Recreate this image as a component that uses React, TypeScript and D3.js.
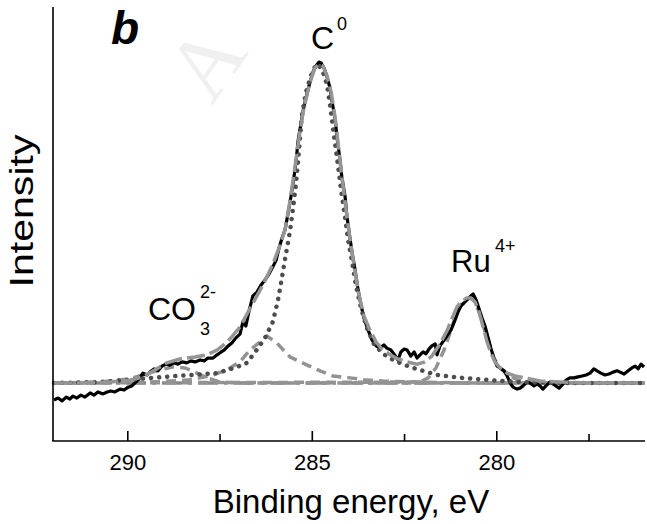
import React from 'react';
import * as d3 from 'd3';

type P = [number, number];

const majorTicks = [290, 285, 280];
const minorTicks = [287.5, 282.5, 277.5];

// Binding energy (eV), intensity (a.u.)
const measured: P[] = [
  [292.0, -5.3], [291.89, -4.7], [291.78, -5.6], [291.67, -4.4], [291.57, -5.0], [291.49, -4.1],
  [291.38, -4.7], [291.27, -3.8], [291.16, -4.4], [291.02, -3.1], [290.92, -3.8], [290.81, -2.8],
  [290.67, -3.4], [290.56, -2.8], [290.46, -2.5], [290.35, -2.8], [290.21, -1.9], [290.1, -2.2],
  [289.99, -1.3], [289.89, -0.9], [289.78, 0.3], [289.67, 1.6], [289.59, 3.1], [289.48, 2.5],
  [289.4, 3.4], [289.29, 4.4], [289.18, 3.8], [289.07, 5.3], [288.96, 5.9], [288.86, 5.6],
  [288.75, 6.3], [288.64, 5.9], [288.53, 6.6], [288.4, 6.3], [288.29, 6.9], [288.18, 6.6],
  [288.04, 7.2], [287.93, 6.9], [287.83, 7.8], [287.69, 7.8], [287.58, 8.8], [287.47, 9.7],
  [287.39, 10.3], [287.28, 11.6], [287.18, 12.5], [287.07, 14.1], [286.96, 15.3], [286.88, 19.1],
  [286.8, 17.8], [286.72, 22.2], [286.61, 27.2], [286.5, 28.4], [286.39, 30.6], [286.28, 32.2],
  [286.17, 34.1], [286.07, 36.3], [285.98, 38.4], [285.9, 42.2], [285.82, 45.3], [285.74, 47.8],
  [285.66, 52.8], [285.58, 58.1], [285.5, 64.1], [285.44, 69.1], [285.39, 75.3], [285.31, 80.9],
  [285.23, 86.3], [285.14, 90.6], [285.06, 94.1], [284.98, 97.2], [284.9, 99.1], [284.82, 100.3],
  [284.76, 100.0], [284.68, 98.4], [284.6, 95.6], [284.52, 92.2], [284.47, 88.4], [284.38, 82.2],
  [284.33, 76.6], [284.25, 69.7], [284.2, 64.4], [284.11, 58.1], [284.06, 51.9], [283.98, 45.3],
  [283.92, 40.6], [283.84, 35.3], [283.76, 29.1], [283.68, 24.4], [283.6, 20.3], [283.49, 16.6],
  [283.38, 13.4], [283.27, 11.6], [283.17, 10.9], [283.06, 11.9], [282.98, 10.9], [282.87, 10.3],
  [282.79, 9.1], [282.68, 7.2], [282.6, 9.7], [282.51, 10.6], [282.43, 10.3], [282.33, 8.4],
  [282.24, 9.7], [282.16, 7.8], [282.08, 8.8], [282.0, 9.7], [281.92, 9.1], [281.84, 10.6],
  [281.76, 11.6], [281.67, 12.2], [281.62, 8.8], [281.54, 11.6], [281.43, 13.4], [281.35, 14.7],
  [281.24, 16.6], [281.13, 19.7], [281.05, 22.2], [280.97, 24.1], [280.89, 25.0], [280.78, 26.3],
  [280.7, 27.2], [280.64, 27.8], [280.56, 25.9], [280.48, 23.1], [280.4, 20.3], [280.32, 17.8],
  [280.24, 14.4], [280.16, 10.9], [280.08, 7.8], [279.99, 5.3], [279.91, 4.7], [279.8, 3.8],
  [279.72, 2.2], [279.64, 0.0], [279.56, -1.3], [279.45, -1.9], [279.37, -1.6], [279.29, -0.9],
  [279.18, 0.3], [279.1, 0.0], [278.99, -0.9], [278.91, -0.3], [278.83, -0.9], [278.75, -1.9],
  [278.67, -0.9], [278.56, 0.3], [278.48, -0.3], [278.4, -0.9], [278.31, -1.6], [278.23, -0.6],
  [278.12, 0.9], [278.02, 1.6], [277.91, 1.6], [277.8, 1.9], [277.69, 2.2], [277.58, 2.5],
  [277.47, 3.1], [277.37, 4.4], [277.28, 3.8], [277.18, 3.1], [277.07, 2.5], [276.96, 2.8],
  [276.85, 3.4], [276.74, 3.8], [276.66, 3.4], [276.55, 2.8], [276.44, 3.8], [276.34, 4.7],
  [276.25, 5.3], [276.17, 4.4], [276.09, 5.9], [276.01, 5.0],
];

const envelope: P[] = [
  [292.0, 0], [291.3, 0], [290.48, 0.3], [289.94, 0.9], [289.59, 1.9], [289.26, 4.1], [288.94, 6.3],
  [288.59, 7.5], [288.18, 8.1], [287.85, 8.8], [287.58, 10.3], [287.37, 12.2], [287.18, 14.4],
  [286.96, 17.5], [286.74, 22.2], [286.53, 26.6], [286.31, 31.3], [286.09, 36.6], [285.9, 42.2],
  [285.74, 47.8], [285.6, 57.2], [285.47, 67.5], [285.36, 76.6], [285.23, 85.9], [285.06, 94.1],
  [284.93, 98.4], [284.82, 99.7], [284.71, 99.1], [284.6, 95.9], [284.49, 90.9], [284.38, 82.8],
  [284.28, 72.8], [284.17, 61.9], [284.06, 51.9], [283.95, 42.8], [283.84, 34.7], [283.73, 27.2],
  [283.6, 20.9], [283.44, 16.6], [283.27, 12.8], [283.11, 10.6], [282.89, 8.8], [282.68, 7.5],
  [282.43, 6.6], [282.16, 5.9], [281.95, 6.6], [281.76, 8.4], [281.54, 12.2], [281.35, 16.3],
  [281.21, 20.3], [281.08, 23.8], [280.94, 25.6], [280.81, 26.6], [280.7, 26.6], [280.59, 25.3],
  [280.48, 22.2], [280.37, 17.5], [280.27, 13.1], [280.16, 9.4], [280.05, 6.6], [279.91, 4.7],
  [279.72, 3.1], [279.51, 2.2], [279.24, 1.6], [278.83, 0.6], [278.29, 0.3], [277.47, 0], [276.0, 0],
];

const peakC0: P[] = [
  [292.0, 0], [290.75, 0.3], [289.67, 1.3], [288.67, 2.2], [288.23, 2.5], [287.58, 3.1], [287.04, 5.0],
  [286.77, 6.3], [286.47, 10.9], [286.28, 14.1], [286.07, 19.1], [285.93, 25.9], [285.82, 33.1],
  [285.71, 40.6], [285.6, 47.8], [285.52, 54.7], [285.44, 62.5], [285.39, 68.8], [285.33, 76.9],
  [285.28, 83.8], [285.17, 90.9], [285.06, 95.3], [284.95, 98.4], [284.85, 99.7], [284.71, 97.2],
  [284.6, 93.1], [284.52, 86.9], [284.44, 79.7], [284.33, 70.3], [284.22, 60.3], [284.11, 51.6],
  [284.03, 44.7], [283.92, 37.8], [283.82, 30.6], [283.68, 23.4], [283.52, 17.2], [283.33, 12.2],
  [283.08, 9.1], [282.76, 6.9], [282.35, 5.0], [281.62, 2.5], [280.94, 1.6], [280.18, 0.9],
  [279.37, 0.3], [278.29, 0], [276.0, 0],
];

const peakCO: P[] = [
  [292.0, 0], [289.4, 0.3], [288.4, 0.9], [288.04, 1.6], [287.69, 2.5], [287.31, 4.1], [286.96, 6.6],
  [286.69, 10.3], [286.42, 12.8], [286.23, 14.7], [285.96, 12.5], [285.6, 8.1], [285.14, 5.6],
  [284.79, 3.8], [284.44, 2.2], [283.98, 1.6], [283.52, 0.9], [283.08, 0.6], [282.08, 0.3],
  [281.0, 0], [276.0, 0],
];

const peakCO3: P[] = [
  [292.0, 0], [290.75, 0.3], [289.94, 1.3], [289.53, 2.8], [289.13, 4.1], [288.78, 5.0], [288.45, 4.7],
  [288.12, 3.1], [287.85, 1.6], [287.5, 0.3], [286.96, 0], [276.0, 0],
];

const peakRu: P[] = [
  [292.0, 0], [282.08, 0.3], [281.86, 1.6], [281.65, 4.7], [281.43, 10.3], [281.24, 16.6],
  [281.08, 22.2], [280.92, 25.3], [280.75, 26.6], [280.62, 25.9], [280.48, 22.2], [280.35, 17.2],
  [280.21, 12.2], [280.08, 7.8], [279.91, 4.7], [279.7, 2.5], [279.43, 0.9], [279.05, 0], [276.0, 0],
];

const background: P[] = [[292.0, 0], [276.0, 0]];

const FONT = "'Liberation Sans', Arial, Helvetica, sans-serif";

export default function App() {
  const W = 647;
  const H = 524;
  const x = d3.scaleLinear().domain([292, 276]).range([54, 644.4]);
  const y = d3.scaleLinear().domain([-18.125, 117.5]).range([441, 7]);
  const line = d3.line<P>().x((d) => x(d[0])).y((d) => y(d[1]));
  const axisY = 441;
  const axisX = 53;

  return (
    <svg
      width={W}
      height={H}
      viewBox={`0 0 ${W} ${H}`}
      style={{ position: 'absolute', left: 0, top: 0, background: '#fff' }}
      fontFamily={FONT}
    >
      <rect x={0} y={0} width={W} height={H} fill="#fff" />
      {/* watermark */}
      <text
        transform="translate(212,106) rotate(-55)"
        fontFamily="'Liberation Serif', 'DejaVu Serif', serif"
        fontSize={90}
        fill="#f0f0f0"
      >
        A
      </text>

      {/* curves */}
      <path d={line(background) || ''} fill="none" stroke="#8a8a8a" strokeWidth={3.5} strokeDasharray="20 6 4 6" />
      <path d={line(peakCO3) || ''} fill="none" stroke="#939393" strokeWidth={3.5} strokeDasharray="10 6" />
      <path d={line(peakCO) || ''} fill="none" stroke="#939393" strokeWidth={3.5} strokeDasharray="10 6" />
      <path d={line(peakRu) || ''} fill="none" stroke="#939393" strokeWidth={3.5} strokeDasharray="10 6" />
      <path d={line(measured) || ''} fill="none" stroke="#000" strokeWidth={3.2} strokeLinejoin="round" />
      <path d={line(peakC0) || ''} fill="none" stroke="#4d4d4d" strokeWidth={4.5} strokeLinecap="round" strokeDasharray="0.1 8" />
      <path d={line(envelope) || ''} fill="none" stroke="#959595" strokeWidth={3.5} strokeDasharray="18 5" />

      {/* axes */}
      <line x1={axisX} y1={7} x2={axisX} y2={axisY} stroke="#000" strokeWidth={1.6} />
      <line x1={axisX - 0.8} y1={axisY} x2={645} y2={axisY} stroke="#000" strokeWidth={1.6} />
      {majorTicks.map((t) => (
        <g key={`M${t}`}>
          <line x1={x(t)} x2={x(t)} y1={axisY} y2={axisY - 10} stroke="#000" strokeWidth={1.6} />
          <text x={x(t)} y={470} fontSize={22} textAnchor="middle" fill="#000">
            {t}
          </text>
        </g>
      ))}
      {minorTicks.map((t) => (
        <line key={`m${t}`} x1={x(t)} x2={x(t)} y1={axisY} y2={axisY - 7} stroke="#000" strokeWidth={1.6} />
      ))}

      {/* axis titles */}
      <text x={351} y={513} fontSize={33} textAnchor="middle" fill="#000">
        Binding energy, eV
      </text>
      <text
        transform="translate(33,211) rotate(-90)"
        fontSize={33}
        textAnchor="middle"
        textLength={153}
        lengthAdjust="spacingAndGlyphs"
        fill="#000"
      >
        Intensity
      </text>

      {/* panel letter */}
      <text x={111} y={44} fontSize={46} fontWeight="bold" fontStyle="italic" fill="#000">
        b
      </text>

      {/* peak labels */}
      <text x={311} y={49} fontSize={32} fill="#000">C</text>
      <text x={337} y={30} fontSize={18} fill="#000">0</text>

      <text x={451} y={272} fontSize={31} fill="#000">Ru</text>
      <text x={495} y={252} fontSize={18} fill="#000">4+</text>

      <text x={148} y={320} fontSize={32} fill="#000">CO</text>
      <text x={200} y={298} fontSize={18} fill="#000">2-</text>
      <text x={200} y={335} fontSize={18} fill="#000">3</text>
    </svg>
  );
}
